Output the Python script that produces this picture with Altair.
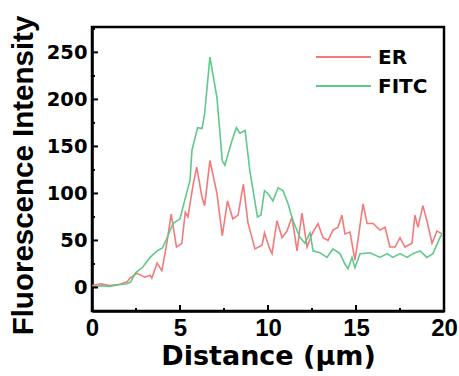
import altair as alt
import pandas as pd

er_x = [0.0, 0.5, 1.0, 1.5, 2.0, 2.16, 2.55, 3.0, 3.3, 3.4, 3.7, 3.97, 4.25, 4.5, 4.8, 5.1, 5.3, 5.45,
        5.75, 5.95, 6.25, 6.4, 6.7, 7.1, 7.4, 7.7, 8.0, 8.3, 8.6, 8.86, 9.26, 9.66, 9.8, 10.1, 10.23,
        10.51, 10.8, 11.08, 11.36, 11.65, 11.93, 12.22, 12.5, 12.84, 13.13, 13.41, 13.69, 13.98, 14.2,
        14.37, 14.66, 14.94, 15.11, 15.4, 15.63, 15.97, 16.36, 16.65, 16.93, 17.22, 17.5, 17.78, 18.18,
        18.35, 18.52, 18.8, 19.03, 19.32, 19.6, 19.89]
er_y = [2, 4, 2, 3, 6, 10, 15, 11, 13, 10, 26, 18, 47, 78, 43, 47, 80, 75,
        110, 128, 96, 87, 135, 100, 55, 92, 73, 77, 110, 69, 41, 45, 58, 41, 36,
        71, 53, 60, 75, 39, 79, 43, 57, 68, 53, 50, 61, 64, 77,
        57, 59, 29, 50, 89, 68, 68, 61, 64, 43, 43, 53, 43, 47,
        77, 64, 87, 71, 47, 60, 57]

fitc_x = [0.0, 0.5, 1.0, 1.5, 2.0, 2.2, 2.45, 2.9, 3.3, 3.7, 4.0, 4.25, 4.6, 5.0, 5.3, 5.57, 5.68,
          6.0, 6.25, 6.4, 6.7, 7.1, 7.4, 7.55, 7.95, 8.2, 8.4, 8.7, 8.97, 9.4, 9.6, 9.8, 10.0, 10.28,
          10.57, 10.85, 11.14, 11.42, 11.82, 12.1, 12.39, 12.56, 12.95, 13.35, 13.69, 14.09, 14.37,
          14.55, 14.77, 14.94, 15.23, 15.8, 16.36, 16.76, 17.1, 17.5, 17.9, 18.24, 18.64, 19.03,
          19.37, 19.77, 19.89]
fitc_y = [0, 2, 1, 3, 4, 6, 15, 22, 32, 39, 42, 52, 68, 73, 95, 114, 146,
          170, 169, 185, 245, 202, 135, 130, 156, 170, 164, 167, 124, 75, 77, 103, 100, 92,
          106, 103, 89, 71, 53, 47, 58, 39, 37, 32, 41, 36, 25,
          20, 32, 21, 36, 37, 32, 36, 32, 36, 32, 36, 39, 32,
          36, 53, 57]

y_major = [0, 50, 100, 150, 200, 250]
y_minor = [-25, 25, 75, 125, 175, 225, 275]
x_major = [0, 5, 10, 15, 20]
x_minor = [2.5, 7.5, 12.5, 17.5]

series_names = ["ER", "FITC"]
colors = ["#F27A7A", "#5EC98A"]

W, H = 352, 284
BOLD_WIDE = "DejaVu Sans"
BOLD_ARIAL = "Liberation Sans"

df = pd.concat([
    pd.DataFrame({"d": er_x, "v": er_y, "s": "ER"}),
    pd.DataFrame({"d": fitc_x, "v": fitc_y, "s": "FITC"}),
])

xs = alt.Scale(domain=[0, 20], nice=False, zero=False)
ys = alt.Scale(domain=[-25, 277], nice=False, zero=False)

lines = alt.Chart(df).mark_line(strokeWidth=1.6, clip=True).encode(
    x=alt.X("d:Q", scale=xs, title="Distance (μm)",
            axis=alt.Axis(values=x_major, tickSize=0, labelPadding=5, grid=False,
                          labelFlush=False, labelOverlap=False,
                          domainColor="black", domainWidth=2.5, labelFontSize=24,
                          labelFontWeight="bold", labelColor="black", titleFontSize=27,
                          titleFontWeight="bold", titleColor="black", titlePadding=3,
                          labelFont=BOLD_ARIAL, titleFont=BOLD_WIDE)),
    y=alt.Y("v:Q", scale=ys, title="Fluorescence Intensity",
            axis=alt.Axis(values=y_major, tickSize=0, labelPadding=5, grid=False,
                          labelOverlap=False,
                          domainColor="black", domainWidth=2.5, labelFontSize=19.5,
                          labelFontWeight="bold", labelColor="black", titleFontSize=29.5,
                          titleFontWeight="bold", titleColor="black", titlePadding=8,
                          titleY=148,
                          labelFont=BOLD_WIDE, titleFont=BOLD_ARIAL)),
    color=alt.Color("s:N", scale=alt.Scale(domain=series_names, range=colors), legend=None),
)

legend_layers = []
for i, (name, col) in enumerate(zip(series_names, colors)):
    yy = 30 + 29 * i
    legend_layers.append(
        alt.Chart(pd.DataFrame({"s": [name]})).mark_rule(color=col, strokeWidth=1.8).encode(
            x=alt.value(224), x2=alt.value(279), y=alt.value(yy)))
    legend_layers.append(
        alt.Chart(pd.DataFrame({"s": [name]})).mark_text(
            align="left", baseline="middle", font=BOLD_WIDE, fontWeight="bold",
            fontSize=20, color="black").encode(
            x=alt.value(286), y=alt.value(yy + 1), text="s:N"))

ymaj = alt.Chart(pd.DataFrame({"t": y_major})).mark_rule(color="black", strokeWidth=2).encode(
    y=alt.Y("t:Q", scale=ys), x=alt.value(0), x2=alt.value(6))
ymin = alt.Chart(pd.DataFrame({"t": y_minor})).mark_rule(color="black", strokeWidth=2, clip=True).encode(
    y=alt.Y("t:Q", scale=ys), x=alt.value(0), x2=alt.value(3))
xmaj = alt.Chart(pd.DataFrame({"t": x_major})).mark_rule(color="black", strokeWidth=2).encode(
    x=alt.X("t:Q", scale=xs), y=alt.value(H), y2=alt.value(H - 6))
xmin = alt.Chart(pd.DataFrame({"t": x_minor})).mark_rule(color="black", strokeWidth=2).encode(
    x=alt.X("t:Q", scale=xs), y=alt.value(H), y2=alt.value(H - 3))

chart = alt.layer(lines, ymaj, ymin, xmaj, xmin, *legend_layers).properties(
    width=W, height=H,
    autosize=alt.AutoSizeParams(type="none"),
    padding={"left": 92, "top": 27, "right": 15, "bottom": 65},
    background="white",
).configure_view(stroke="black", strokeWidth=2.5)

chart.save("out.html", embed_options={"renderer": "svg", "actions": False})
